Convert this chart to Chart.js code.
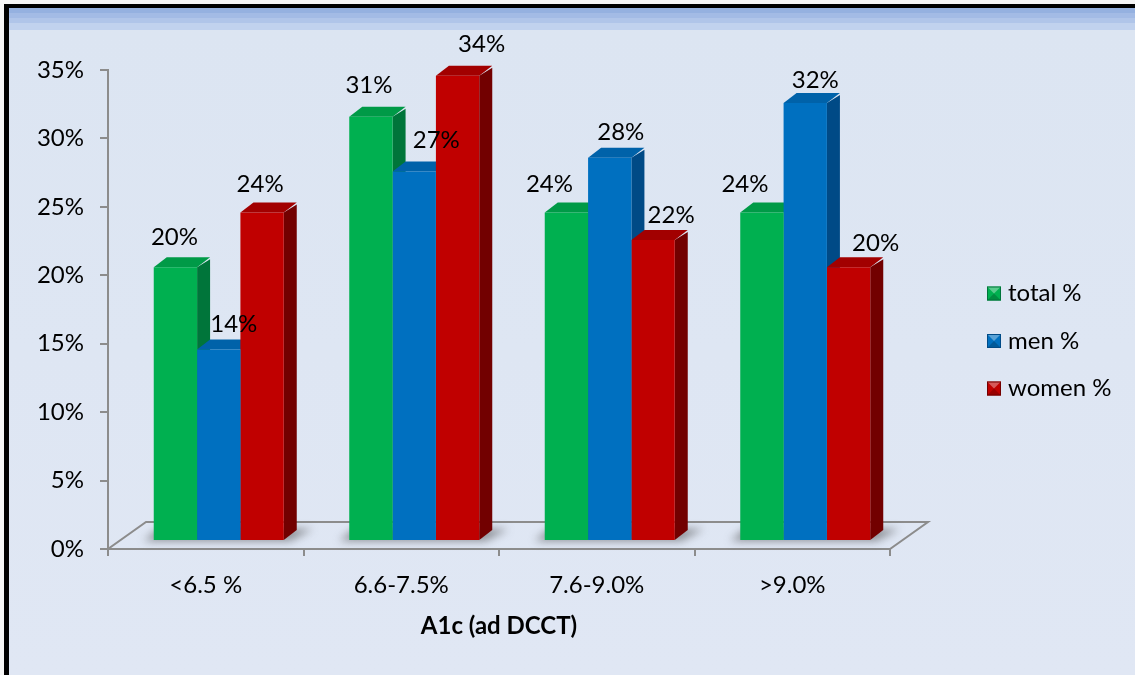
<!DOCTYPE html>
<html>
<head>
<meta charset="utf-8">
<script src="https://cdn.jsdelivr.net/npm/chart.js@4.4.1/dist/chart.umd.min.js"></script>
<style>
  html, body { margin: 0; padding: 0; background: #f6f6f6; }
  #frame {
    position: absolute; left: 4px; top: 4px; width: 1131px; height: 671px;
    box-sizing: border-box;
    border-left: 5px solid #000; border-top: 4px solid #000;
    background: linear-gradient(to bottom,
      #95b1e0 0px, #95b1e0 5px, #a3bbe5 5px, #a3bbe5 10px,
      #b0c5e9 10px, #b0c5e9 15px, #c1d2ee 15px, #c1d2ee 22px,
      #dce5f2 22px, #e0e7f4 100%);
  }
  #chart { position: absolute; left: 0; top: 0; }
</style>
</head>
<body>
<div id="frame"></div>
<canvas id="chart" width="1135" height="675"></canvas>
<script>
  const categories = ['<6.5 %', '6.6-7.5%', '7.6-9.0%', '>9.0%'];
  const seriesNames = ['total %', 'men %', 'women %'];
  const totalPct = [20, 31, 24, 24];
  const menPct = [14, 27, 28, 32];
  const womenPct = [24, 34, 22, 20];
  const yTickValues = [0, 5, 10, 15, 20, 25, 30, 35];

  // front / side / top shades for each series
  const faces = [
    { front: '#00b050', side: '#00753a', top: '#009a47' },
    { front: '#0070c0', side: '#004a86', top: '#0062a9' },
    { front: '#c00000', side: '#720000', top: '#a20000' },
  ];

  // nudges for the value labels, measured from the top centre of each bar
  const labelDx = [[-1, -2, -17, -17], [15, 22, 11, 10], [-2, 24, 18, 27]];
  const labelDy = [[-30, -31, -28, -28], [-25, -31, -26, -23], [-28, -31, -25, -24]];

  const FONT = 'Lato, "DejaVu Sans", sans-serif';
  const SHIFT = { x: 13, y: -8 };   // front faces stand a bit back on the floor
  const DEPTH = { x: 13, y: -10 };  // bar thickness
  const FLOOR = { x: 38, y: -27 };
  const AXIS = '#8c8c8c';

  const bar3d = {
    id: 'bar3d',
    beforeDatasetsDraw(chart) {
      const { ctx, chartArea: a } = chart;
      ctx.save();
      // floor outline
      ctx.beginPath();
      ctx.moveTo(a.left, a.bottom);
      ctx.lineTo(a.right, a.bottom);
      ctx.lineTo(a.right + FLOOR.x, a.bottom + FLOOR.y);
      ctx.lineTo(a.left + FLOOR.x, a.bottom + FLOOR.y);
      ctx.closePath();
      ctx.strokeStyle = AXIS;
      ctx.lineWidth = 2;
      ctx.stroke();

      ctx.translate(SHIFT.x, SHIFT.y);

      // soft shadow under every group
      const first = chart.getDatasetMeta(0).data;
      const last = chart.getDatasetMeta(chart.data.datasets.length - 1).data;
      ctx.save();
      ctx.filter = 'blur(4px)';
      ctx.fillStyle = 'rgba(70,70,70,0.55)';
      first.forEach((b, i) => {
        const gl = b.x - b.width / 2, gr = last[i].x + last[i].width / 2, base = b.base;
        ctx.beginPath();
        ctx.moveTo(gl - 10, base + 1);
        ctx.lineTo(gr + 6, base + 1);
        ctx.lineTo(gr + DEPTH.x + 16, base + DEPTH.y - 1);
        ctx.lineTo(gl + DEPTH.x - 8, base + DEPTH.y - 1);
        ctx.closePath();
        ctx.fill();
      });
      ctx.restore();

      // side and top faces, left to right
      chart.data.datasets.forEach((ds, di) => {
        const f = faces[di];
        chart.getDatasetMeta(di).data.forEach(bar => {
          const { x, y, base, width } = bar.getProps(['x', 'y', 'base', 'width'], true);
          const l = x - width / 2, r = x + width / 2;
          ctx.beginPath();
          ctx.moveTo(r, base);
          ctx.lineTo(r + DEPTH.x, base + DEPTH.y);
          ctx.lineTo(r + DEPTH.x, y + DEPTH.y + 2);
          ctx.lineTo(r, y);
          ctx.closePath();
          ctx.fillStyle = f.side;
          ctx.fill();

          ctx.beginPath();
          ctx.moveTo(l, y);
          ctx.lineTo(r, y);
          ctx.lineTo(r + DEPTH.x, y + DEPTH.y);
          ctx.lineTo(l + DEPTH.x, y + DEPTH.y);
          ctx.closePath();
          ctx.fillStyle = f.top;
          ctx.fill();
        });
      });
      ctx.restore();
    },
    beforeDatasetDraw(chart) {
      chart.ctx.save();
      chart.ctx.translate(SHIFT.x, SHIFT.y);
    },
    afterDatasetDraw(chart) {
      chart.ctx.restore();
    },
    afterDatasetsDraw(chart) {
      const { ctx, chartArea: a } = chart;
      ctx.save();
      ctx.font = '24px ' + FONT;
      ctx.fillStyle = '#000';
      ctx.textAlign = 'center';
      ctx.textBaseline = 'middle';
      chart.data.datasets.forEach((ds, di) => {
        chart.getDatasetMeta(di).data.forEach((bar, i) => {
          ctx.fillText(ds.data[i] + '%', bar.x + SHIFT.x + labelDx[di][i], bar.y + SHIFT.y + labelDy[di][i]);
        });
      });

      // legend
      const lx = a.right + 97;
      const midY = (a.top + a.bottom) / 2 + 31.5;
      const s = 14;
      chart.data.datasets.forEach((ds, di) => {
        const cy = midY + (di - 1) * 47.5;
        const x0 = lx, y0 = cy - s / 2, cx = x0 + s / 2;
        const f = faces[di];
        ctx.fillStyle = f.front;
        ctx.fillRect(x0, y0, s, s);
        ctx.beginPath();
        ctx.moveTo(x0, y0); ctx.lineTo(x0 + s, y0); ctx.lineTo(cx, cy);
        ctx.closePath();
        ctx.fillStyle = 'rgba(255,255,255,0.35)';
        ctx.fill();
        ctx.beginPath();
        ctx.moveTo(x0, y0 + s); ctx.lineTo(x0 + s, y0 + s); ctx.lineTo(cx, cy);
        ctx.closePath();
        ctx.fillStyle = 'rgba(0,0,0,0.2)';
        ctx.fill();
        ctx.strokeStyle = f.side;
        ctx.lineWidth = 1;
        ctx.strokeRect(x0 + 0.5, y0 + 0.5, s - 1, s - 1);
        ctx.fillStyle = '#000';
        ctx.textAlign = 'left';
        ctx.fillText(ds.label, x0 + s + 7, cy);
      });
      ctx.restore();
    }
  };

  const series = [totalPct, menPct, womenPct];
  new Chart(document.getElementById('chart'), {
    type: 'bar',
    data: {
      labels: categories,
      datasets: series.map((vals, i) => ({
        label: seriesNames[i],
        data: vals,
        backgroundColor: faces[i].front,
        borderWidth: 0,
        categoryPercentage: 0.665,
        barPercentage: 1.0,
        clip: false,
      })),
    },
    options: {
      responsive: false,
      animation: false,
      devicePixelRatio: 1,
      layout: { padding: { left: 0, top: 70, right: 245, bottom: 0 } },
      plugins: {
        legend: { display: false },
        tooltip: { enabled: false },
      },
      scales: {
        x: {
          grid: { offset: true, drawOnChartArea: false, drawTicks: true, tickLength: 7, color: AXIS, lineWidth: 2 },
          border: { display: true, color: AXIS, width: 2 },
          ticks: { color: '#000', font: { family: FONT, size: 24 }, padding: 15 },
          title: {
            display: true, text: 'A1c (ad DCCT)', color: '#000',
            font: { family: FONT, size: 24, weight: 'bold' },
            padding: { top: 34, bottom: 34 },
          },
          afterFit(scale) { scale.height = 126; },
        },
        y: {
          min: 0, max: 35,
          afterBuildTicks(scale) { scale.ticks = yTickValues.map(v => ({ value: v })); },
          grid: { drawOnChartArea: false, drawTicks: true, tickLength: 8, color: AXIS, lineWidth: 2 },
          border: { display: true, color: AXIS, width: 2 },
          ticks: { color: '#000', font: { family: FONT, size: 24 }, padding: 16, callback: v => v + '%' },
          afterFit(scale) { scale.width = 108; },
        },
      },
    },
    plugins: [bar3d],
  });
</script>
</body>
</html>
